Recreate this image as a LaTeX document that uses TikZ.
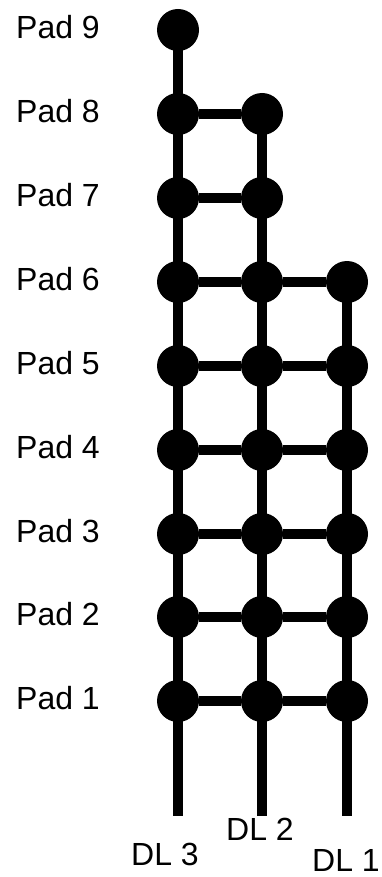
\documentclass[tikz,border=0pt]{standalone}
\usepackage{fontspec}
\setmainfont{Liberation Sans}
\begin{document}
\begin{tikzpicture}[x=1pt,y=-1pt,
  padnode/.style={circle,fill=black,minimum size=42pt,inner sep=0pt},
  wire/.style={line width=9.5pt,black},
  lbl/.style={font=\fontsize{32}{38}\selectfont,inner sep=0pt,text=black}]
\useasboundingbox (0,0) rectangle (382,877);
% row y positions
\def\rA{701}\def\rB{617}\def\rC{534}\def\rD{450}\def\rE{366}
\def\rF{282}\def\rG{198}\def\rH{114}\def\rI{30}
% pads in column 1 (DL 3)
\foreach \n/\y in {1/\rA,2/\rB,3/\rC,4/\rD,5/\rE,6/\rF,7/\rG,8/\rH,9/\rI}{
  \node[padnode] (a\n) at (178,\y) {};
  \node[lbl,anchor=west] (l\n) at (16,\y-3) {Pad \n};
}
% column 2 (DL 2)
\foreach \n/\y in {1/\rA,2/\rB,3/\rC,4/\rD,5/\rE,6/\rF,7/\rG,8/\rH}{
  \node[padnode] (b\n) at (262,\y) {};
}
% column 3 (DL 1)
\foreach \n/\y in {1/\rA,2/\rB,3/\rC,4/\rD,5/\rE,6/\rF}{
  \node[padnode] (c\n) at (347,\y) {};
}
\coordinate (ea) at (178,816);
\coordinate (eb) at (262,816);
\coordinate (ec) at (347,816);
% vertical wires
\draw[wire] (a9.center) -- (ea);
\draw[wire] (b8.center) -- (eb);
\draw[wire] (c6.center) -- (ec);
% horizontal wires
\draw[wire] (a8) -- (b8);
\draw[wire] (a7) -- (b7);
\foreach \n in {1,...,6}{
  \draw[wire] (a\n) -- (b\n);
  \draw[wire] (b\n) -- (c\n);
}
% data line labels
\node[lbl] (dl3) at (165,854) {DL 3};
\node[lbl] (dl2) at (260,829) {DL 2};
\node[lbl,anchor=east] (dl1) at (380,860) {DL 1};
\end{tikzpicture}
\end{document}
